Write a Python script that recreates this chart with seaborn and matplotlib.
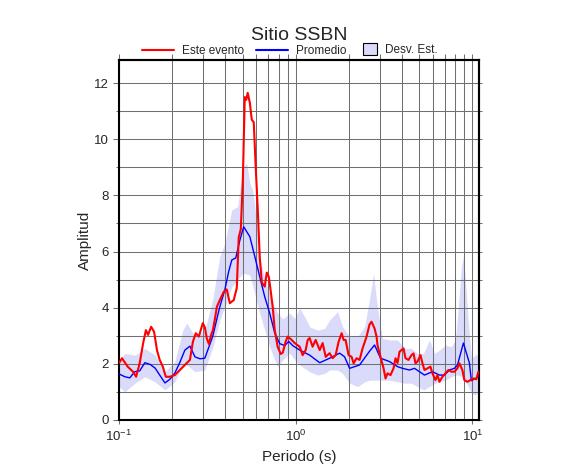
import numpy as np
import pandas as pd
import seaborn as sns
import matplotlib.pyplot as plt
from matplotlib.lines import Line2D
from matplotlib.patches import Patch
from matplotlib.ticker import LogLocator, MultipleLocator, NullFormatter

# --------------------------------------------------
# Data
# --------------------------------------------------
periodo_evento = [
    0.100, 0.104, 0.112, 0.120, 0.125, 0.131, 0.137, 0.142, 0.146, 0.152,
    0.158, 0.164, 0.170, 0.177, 0.184, 0.194, 0.207, 0.221, 0.236, 0.252,
    0.262, 0.272, 0.283, 0.298, 0.306, 0.314, 0.323, 0.331, 0.340, 0.349,
    0.358, 0.372, 0.392, 0.407, 0.424, 0.446, 0.464, 0.476, 0.489, 0.502,
    0.515, 0.525, 0.535, 0.550, 0.564, 0.579, 0.594, 0.610, 0.626, 0.643,
    0.668, 0.686, 0.704, 0.722, 0.742, 0.761, 0.791, 0.823, 0.845, 0.878,
    0.901, 0.949, 0.987, 1.053, 1.095, 1.139, 1.169, 1.199, 1.247, 1.297,
    1.367, 1.421, 1.478, 1.556, 1.618, 1.683, 1.750, 1.820, 1.867, 1.916,
    1.992, 2.072, 2.127, 2.211, 2.299, 2.391, 2.518, 2.618, 2.687, 2.795,
    2.869, 2.906, 3.022, 3.143, 3.225, 3.310, 3.442, 3.579, 3.673, 3.770,
    3.869, 3.971, 4.075, 4.183, 4.349, 4.522, 4.642, 4.764, 4.890, 5.084,
    5.218, 5.356, 5.569, 5.790, 5.943, 6.180, 6.342, 6.509, 6.768, 7.037,
    7.317, 7.607, 7.910, 8.225, 8.442, 8.779, 9.010, 9.371, 9.743, 10.13,
    10.53, 10.81,
]
amp_evento = [
    2.03, 2.20, 1.90, 1.72, 1.54, 2.03, 2.74, 3.20, 3.03, 3.32,
    3.14, 2.49, 2.14, 1.90, 1.54, 1.54, 1.60, 1.78, 1.96, 2.14,
    2.79, 3.09, 2.97, 3.45, 3.30, 2.90, 2.70, 3.00, 3.20, 3.60,
    4.03, 4.27, 4.57, 4.65, 4.16, 4.27, 4.70, 6.50, 6.80, 8.50,
    11.50, 11.40, 11.65, 11.30, 10.70, 10.60, 9.00, 7.50, 5.80, 4.90,
    4.75, 5.25, 5.10, 4.60, 4.00, 3.20, 2.60, 2.35, 2.40, 2.80,
    2.97, 2.85, 2.74, 2.61, 2.31, 2.49, 2.85, 2.92, 2.61, 2.85,
    2.49, 2.74, 2.25, 2.38, 2.20, 2.31, 2.79, 3.09, 2.85, 2.85,
    2.31, 2.25, 2.02, 2.20, 2.14, 2.55, 2.97, 3.40, 3.50, 3.26,
    2.97, 2.65, 2.25, 1.84, 1.48, 1.66, 1.60, 1.84, 2.20, 2.03,
    2.43, 2.49, 2.55, 2.20, 2.14, 2.31, 2.37, 2.02, 2.08, 2.31,
    2.02, 1.78, 1.84, 1.90, 1.66, 1.42, 1.60, 1.36, 1.54, 1.66,
    1.78, 1.72, 1.72, 1.84, 2.02, 1.78, 1.42, 1.36, 1.42, 1.48,
    1.45, 1.72,
]

periodo_prom = [
    0.100, 0.108, 0.115, 0.123, 0.131, 0.140, 0.150, 0.160, 0.170, 0.182,
    0.194, 0.207, 0.221, 0.236, 0.252, 0.269, 0.287, 0.306, 0.327, 0.340,
    0.358, 0.372, 0.397, 0.418, 0.435, 0.458, 0.483, 0.508, 0.529, 0.550,
    0.587, 0.626, 0.668, 0.713, 0.761, 0.812, 0.867, 0.913, 0.962, 1.053,
    1.199, 1.367, 1.556, 1.773, 1.891, 2.019, 2.299, 2.618, 2.795, 3.022,
    3.397, 3.770, 4.022, 4.407, 4.702, 5.356, 5.943, 6.509, 6.947, 7.417,
    7.910, 8.225, 8.895, 9.618, 9.872, 10.53, 10.81,
]
amp_prom = [
    1.64, 1.54, 1.50, 1.72, 1.75, 2.04, 1.98, 1.85, 1.60, 1.32,
    1.45, 1.67, 2.05, 2.49, 2.63, 2.25, 2.18, 2.20, 2.70, 3.00,
    3.60, 4.03, 4.63, 5.30, 5.70, 5.77, 6.40, 6.88, 6.70, 6.53,
    5.82, 5.10, 4.39, 3.80, 3.10, 2.72, 2.65, 2.80, 2.65, 2.49,
    2.31, 2.04, 2.20, 2.38, 2.25, 1.84, 1.96, 2.45, 2.67, 2.20,
    2.08, 1.90, 1.84, 1.78, 1.84, 1.60, 1.72, 1.60, 1.60, 1.78,
    1.84, 1.95, 2.74, 2.03, 1.40, 1.50, 1.55,
]

periodo_desv = [
    0.100, 0.108, 0.123, 0.140, 0.160, 0.182, 0.207, 0.230, 0.242, 0.269,
    0.306, 0.340, 0.372, 0.397, 0.435, 0.470, 0.502, 0.529, 0.550, 0.571,
    0.602, 0.626, 0.668, 0.713, 0.761, 0.791, 0.845, 0.925, 0.987, 1.053,
    1.124, 1.199, 1.332, 1.458, 1.556, 1.727, 1.843, 2.019, 2.240, 2.454,
    2.618, 2.759, 2.869, 2.983, 3.101, 3.397, 3.770, 4.128, 4.522, 4.890,
    5.286, 5.714, 6.100, 6.509, 7.037, 7.607, 8.017, 8.334, 8.667, 8.895,
    9.130, 9.493, 9.872, 10.40, 10.81,
]
desv_inf = [
    1.19, 1.01, 1.31, 1.54, 1.36, 1.07, 1.36, 1.96, 1.96, 1.72,
    1.78, 2.61, 3.56, 4.03, 4.75, 5.00, 5.23, 5.20, 5.16, 4.80,
    4.20, 3.80, 3.20, 2.61, 2.14, 1.90, 2.14, 2.38, 2.14, 1.96,
    1.84, 1.72, 1.60, 1.66, 1.78, 1.78, 1.66, 1.31, 1.19, 1.36,
    1.42, 1.42, 1.42, 1.42, 1.42, 1.42, 1.36, 1.31, 1.31, 1.19,
    1.07, 1.19, 1.30, 1.36, 1.42, 1.54, 1.60, 1.60, 1.55, 1.50,
    1.40, 1.19, 0.95, 0.89, 1.00,
]
desv_sup = [
    2.14, 2.37, 2.31, 2.55, 2.31, 1.72, 2.08, 3.20, 3.45, 2.97,
    3.20, 4.33, 5.82, 6.29, 7.48, 7.60, 9.00, 9.14, 8.43, 8.19,
    7.00, 5.80, 5.00, 4.51, 4.03, 3.80, 3.60, 3.80, 3.62, 3.98,
    3.68, 3.32, 3.20, 3.26, 3.56, 3.86, 3.32, 2.97, 2.97, 3.32,
    4.30, 5.20, 4.27, 3.50, 2.91, 2.85, 2.85, 2.55, 2.55, 2.37,
    2.37, 2.85, 2.37, 2.49, 2.67, 2.61, 2.85, 4.03, 5.46, 5.82,
    4.99, 3.44, 2.20, 2.31, 2.37,
]

df_evento = pd.DataFrame({"periodo": periodo_evento, "amp": amp_evento})
df_prom = pd.DataFrame({"periodo": periodo_prom, "amp": amp_prom})

color_evento = "#ff0000"
color_prom = "#0000ff"
color_desv = "#dadafa"
grid_color = "#707070"

# --------------------------------------------------
# Figure
# --------------------------------------------------
sns.set_style("ticks")
plt.rcParams["font.family"] = ["Liberation Sans", "DejaVu Sans"]
plt.rcParams["mathtext.fontset"] = "custom"
plt.rcParams["mathtext.rm"] = "Liberation Sans"

fig = plt.figure(figsize=(5.86, 4.75), dpi=100)
ax = fig.add_axes([119 / 586, 1 - 420 / 475, 360 / 586, 360 / 475])

ax.fill_between(periodo_desv, desv_inf, desv_sup, color=color_desv,
                linewidth=0, zorder=1)
sns.lineplot(data=df_prom, x="periodo", y="amp", color=color_prom,
             linewidth=1.0, estimator=None, ax=ax, zorder=3)
sns.lineplot(data=df_evento, x="periodo", y="amp", color=color_evento,
             linewidth=1.5, estimator=None, ax=ax, zorder=4)

ax.set_xscale("log")
ax.set_xlim(0.1, 10.9)
ax.set_ylim(0, 12.82)

ax.xaxis.set_major_locator(LogLocator(base=10))
ax.xaxis.set_minor_locator(LogLocator(base=10, subs=np.arange(2, 10)))
ax.xaxis.set_minor_formatter(NullFormatter())
ax.yaxis.set_major_locator(MultipleLocator(2))
ax.yaxis.set_minor_locator(MultipleLocator(1))

ax.set_axisbelow("line")
ax.grid(which="both", color=grid_color, linewidth=0.75)

for s in ax.spines.values():
    s.set_linewidth(1.5)
    s.set_color("black")

ax.tick_params(axis="y", which="major", length=4.5, width=0.75,
               labelsize=9.5, pad=3, color=grid_color)
ax.tick_params(axis="y", which="minor", length=2.2, width=0.75,
               color=grid_color)
ax.tick_params(axis="x", which="major", length=3, width=0.75,
               labelsize=9.5, pad=3, color=grid_color)
ax.tick_params(axis="x", which="minor", length=0)

# top and right ticks (GMT style frame)
top = ax.secondary_xaxis("top")
top.set_xscale("log")
top.xaxis.set_major_locator(LogLocator(base=10))
top.xaxis.set_minor_locator(LogLocator(base=10, subs=np.arange(2, 10)))
top.tick_params(which="both", length=4.5, width=0.75, color=grid_color,
                labeltop=False)
top.spines["top"].set_linewidth(1.5)

right = ax.secondary_yaxis("right")
right.yaxis.set_major_locator(MultipleLocator(1))
right.yaxis.set_minor_locator(MultipleLocator(1))
right.tick_params(which="both", length=2.2, width=0.75, color=grid_color,
                  labelright=False)
right.spines["right"].set_linewidth(1.5)

ax.set_xlabel("Periodo (s)", fontsize=11, labelpad=5)
ax.set_ylabel("Amplitud", fontsize=11, labelpad=1)
ax.set_title("Sitio SSBN", fontsize=14, pad=14.5)

# legend: two line entries + a small square box for the std band
lineas = [
    Line2D([], [], color=color_evento, linewidth=1.5),
    Line2D([], [], color=color_prom, linewidth=1.5),
]
fig.legend(lineas, ["Este evento", "Promedio"],
           loc="center left", bbox_to_anchor=(142 / 586, 0.893), ncol=2,
           frameon=False, fontsize=8.5, handlelength=2.7,
           handletextpad=0.7, columnspacing=1.0, borderpad=0,
           borderaxespad=0)
caja = [Patch(facecolor=color_desv, edgecolor="black", linewidth=0.8)]
fig.legend(caja, ["Desv. Est."],
           loc="center left", bbox_to_anchor=(363 / 586, 0.895),
           frameon=False, fontsize=8.5, handlelength=1.2, handleheight=1.2,
           handletextpad=0.65, borderpad=0, borderaxespad=0)

plt.savefig("out.png", dpi=100)
plt.close()
